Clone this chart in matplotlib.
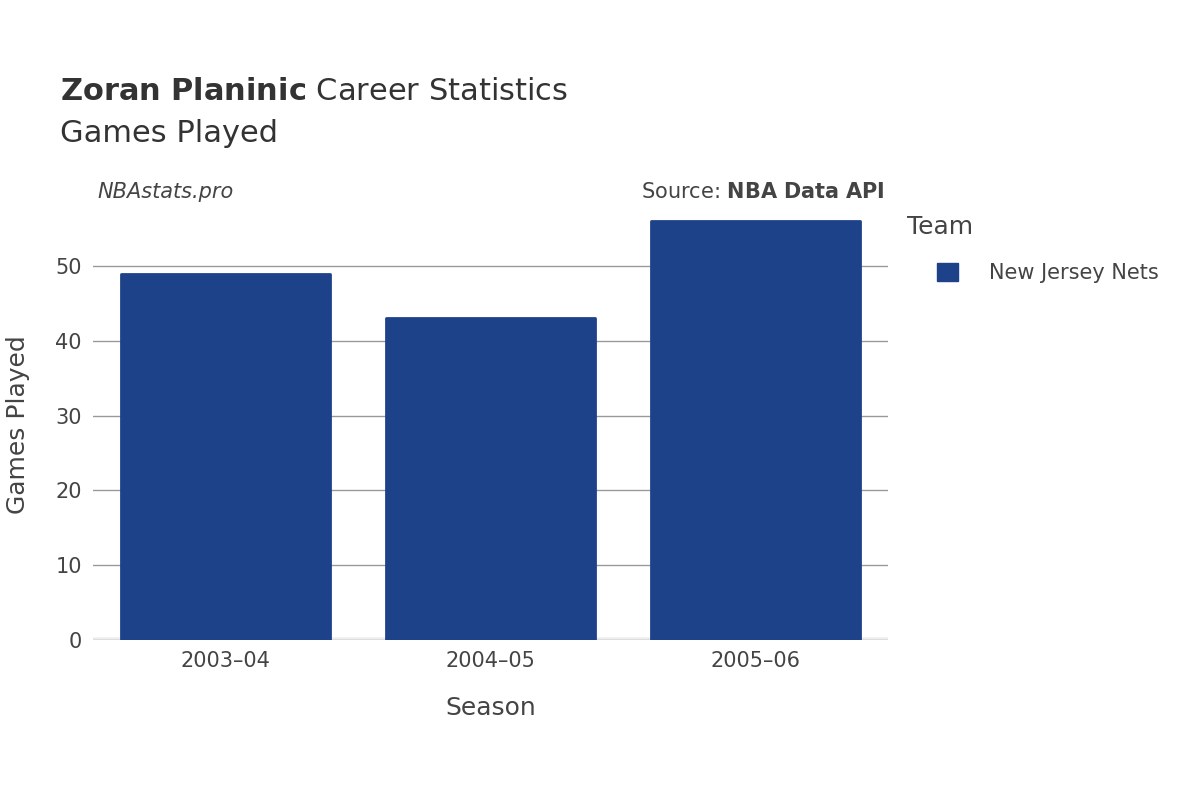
import matplotlib
matplotlib.use("Agg")
import matplotlib.pyplot as plt
from matplotlib.patches import Patch

seasons = ["2003–04", "2004–05", "2005–06"]
games = [49, 43, 56]
team = "New Jersey Nets"
color = "#1d428a"
yticks = [0, 10, 20, 30, 40, 50]

fig = plt.figure(figsize=(12, 8), dpi=100)
ax = fig.add_axes([0.0775, 0.2, 0.6625, 0.5375])
x = range(len(seasons))
bars = ax.bar(x, games, width=0.79, color=color, edgecolor=color, linewidth=2)
for b in bars:
    b.set_joinstyle("round")
ax.set_xlim(-0.5, 2.5)
ax.set_ylim(0, 57.5)
ax.set_yticks(yticks)
ax.set_xticks(list(x))
ax.set_xticklabels(seasons)
ax.grid(axis="y", color="#999999", linewidth=1)
ax.set_axisbelow(True)
for s in ax.spines.values():
    s.set_visible(False)
ax.axhline(0, color="#eeeeee", linewidth=4, zorder=0)
ax.tick_params(length=0, labelsize=15, colors="#444444", pad=8)
ax.set_xlabel("Season", fontsize=18, color="#444444", labelpad=18)
ax.set_ylabel("Games Played", fontsize=18, color="#444444", labelpad=18)

fig.text(0.05, 0.875, r"$\bf{Zoran\ Planinic}$ Career Statistics", fontsize=22, color="#333333", va="baseline")
fig.text(0.05, 0.823, "Games Played", fontsize=22, color="#333333", va="baseline")
fig.text(0.081, 0.752, "NBAstats.pro", fontsize=15, style="italic", color="#444444", va="baseline")
fig.text(0.737, 0.752, r"Source: $\bf{NBA\ Data\ API}$", fontsize=15, color="#444444", va="baseline", ha="right")

fig.text(0.756, 0.708, "Team", fontsize=18, color="#444444", va="baseline")
fig.legend(handles=[Patch(facecolor=color, edgecolor=color, label=team)],
           loc="upper left", bbox_to_anchor=(0.765, 0.695), frameon=False,
           fontsize=15, labelcolor="#444444", handlelength=1.0, handleheight=1.0,
           handletextpad=1.5)
fig.savefig("out.png", dpi=100)
